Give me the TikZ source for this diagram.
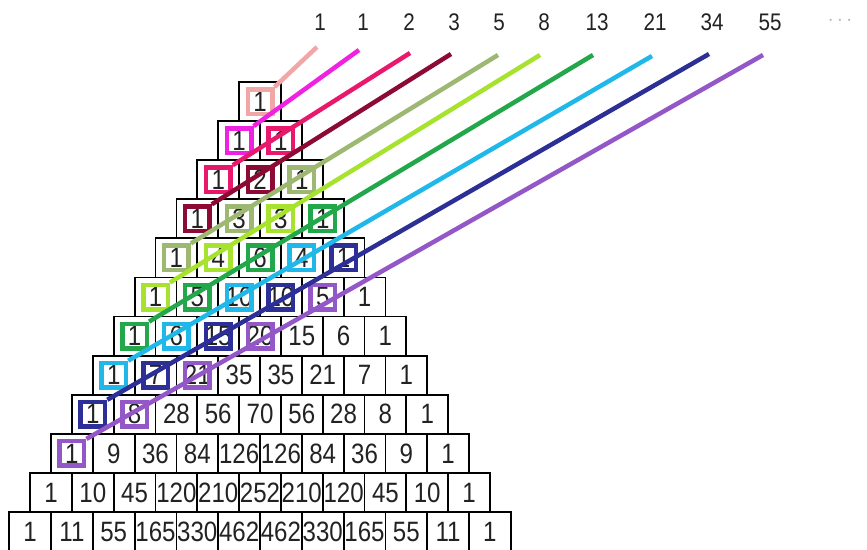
\documentclass[tikz,border=0pt]{standalone}
\usepackage{fontspec}
\setmainfont{Liberation Sans}
\newfontfamily\narrowfont[FakeStretch=0.86]{Liberation Sans}
\usepackage{xcolor}
\definecolor{ink}{HTML}{222222}
\definecolor{fibA}{HTML}{F2A7A7}
\definecolor{fibB}{HTML}{EE22E0}
\definecolor{fibC}{HTML}{E8186C}
\definecolor{fibD}{HTML}{8C0A34}
\definecolor{fibE}{HTML}{9DB871}
\definecolor{fibF}{HTML}{A6E22E}
\definecolor{fibG}{HTML}{22A84A}
\definecolor{fibH}{HTML}{20B8E8}
\definecolor{fibI}{HTML}{2B2F96}
\definecolor{fibJ}{HTML}{9457C8}

\begin{document}
\begin{tikzpicture}[x=1pt,y=-1pt,
  cell/.style={draw, line width=1.8pt, minimum width=41.8pt, minimum height=39.1pt,
    inner sep=0pt, text=ink, font=\narrowfont\fontsize{28}{28}\selectfont},
  fibsq/.style={draw, line width=4.5pt, minimum size=24.5pt, inner sep=0pt},
  fibline/.style={line width=4.5pt},
  fiblabel/.style={text=ink, font=\narrowfont\fontsize{24}{24}\selectfont}]
  \useasboundingbox (0,0) rectangle (867,549);
  % Pascal rows
  \foreach \row [count=\r from 0] in {{1},{1,1},{1,2,1},{1,3,3,1},{1,4,6,4,1},{1,5,10,10,5,1},
      {1,6,15,20,15,6,1},{1,7,21,35,35,21,7,1},{1,8,28,56,70,56,28,8,1},
      {1,9,36,84,126,126,84,36,9,1},{1,10,45,120,210,252,210,120,45,10,1},
      {1,11,55,165,330,462,462,330,165,55,11,1}}
    \foreach \v [count=\k from 0] in \row
      \node[cell] (c-\r-\k) at ({260+(\k-\r/2)*41.8},{101.5+\r*39.1}) {\v};
  % shallow diagonals: cells (d-k,k)
  \foreach \d/\col/\ex/\ey in {0/fibA/317/47, 1/fibB/359/50, 2/fibC/410/53, 3/fibD/451/54,
      4/fibE/498/55, 5/fibF/540/55, 6/fibG/593/55, 7/fibH/652/56, 8/fibI/709/54, 9/fibJ/763/55} {
    \coordinate (e-\d) at (\ex,\ey);
    \pgfmathtruncatemacro{\kmax}{floor(\d/2)}
    \foreach \k in {0,...,\kmax} {
      \pgfmathtruncatemacro{\r}{\d-\k}
      \node[fibsq, draw=\col] (f-\d-\k) at (c-\r-\k) {};
    }
  }
  \foreach \d/\col in {0/fibA, 1/fibB, 2/fibC, 3/fibD, 4/fibE, 5/fibF, 6/fibG, 7/fibH, 8/fibI, 9/fibJ}
    \draw[fibline, \col] (f-\d-0.north east) -- (e-\d);
  % Fibonacci sums
  \foreach \n/\x [count=\i] in {1/320, 1/363, 2/409, 3/454, 5/499, 8/544, 13/597, 21/655, 34/712, 55/770}
    \node[fiblabel] (n-\i) at (\x,22.5) {\n};
  \node[text=gray!60, font=\fontsize{20}{20}\selectfont] (dots) at (840,21) {$\cdots$};
\end{tikzpicture}
\end{document}
